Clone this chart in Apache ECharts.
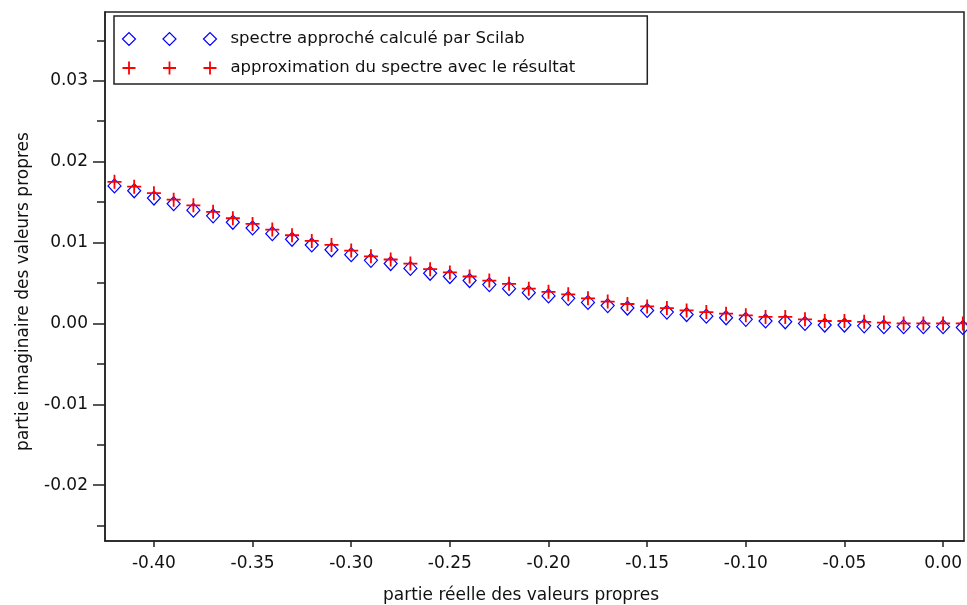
<!DOCTYPE html>
<html>
<head>
<meta charset="utf-8">
<script src="https://cdn.jsdelivr.net/npm/echarts@6/dist/echarts.min.js"></script>
<style>
html,body{margin:0;padding:0;background:#fff;}
#chart{width:967px;height:605px;}
</style>
</head>
<body>
<div id="chart"></div>
<script>
// ---- data ----
const xValues = [-0.42,-0.41,-0.40,-0.39,-0.38,-0.37,-0.36,-0.35,-0.34,-0.33,-0.32,-0.31,-0.30,-0.29,-0.28,-0.27,-0.26,-0.25,-0.24,-0.23,-0.22,-0.21,-0.20,-0.19,-0.18,-0.17,-0.16,-0.15,-0.14,-0.13,-0.12,-0.11,-0.10,-0.09,-0.08,-0.07,-0.06,-0.05,-0.04,-0.03,-0.02,-0.01,0.00,0.01];
const scilabImag = [0.0170,0.0164,0.0155,0.0148,0.0140,0.0133,0.0125,0.0118,0.0111,0.0104,0.0097,0.0091,0.0085,0.0078,0.0074,0.0068,0.0062,0.0058,0.0053,0.0048,0.0043,0.0038,0.0034,0.0031,0.0026,0.0022,0.0019,0.0016,0.0014,0.0011,0.0009,0.0007,0.0005,0.0003,0.0002,0.0000,-0.0002,-0.0002,-0.0003,-0.0004,-0.0004,-0.0004,-0.0004,-0.0005];
const approxImag = [0.0175,0.0169,0.0161,0.0153,0.0146,0.0138,0.0130,0.0123,0.0116,0.0109,0.0102,0.0097,0.0090,0.0083,0.0079,0.0074,0.0067,0.0063,0.0058,0.0053,0.0049,0.0043,0.0039,0.0036,0.0031,0.0027,0.0024,0.0021,0.0019,0.0016,0.0014,0.0012,0.0010,0.0008,0.0008,0.0005,0.0003,0.0003,0.0002,0.0001,0.0000,0.0000,0.0000,0.0000];
const xTicks = [-0.40,-0.35,-0.30,-0.25,-0.20,-0.15,-0.10,-0.05,0.00];
const yTicks = [-0.02,-0.01,0.00,0.01,0.02,0.03];
const yMinorTicks = [-0.025,-0.015,-0.005,0.005,0.015,0.025,0.035];
const seriesNames = ['spectre approché calculé par Scilab','approximation du spectre avec le résultat'];
const xName = 'partie réelle des valeurs propres';
const yName = 'partie imaginaire des valeurs propres';
const xRange = [-0.4248, 0.0106];
const yRange = [-0.0269, 0.0385];

// ---- chart ----
const FONT = 'DejaVu Sans';
const TXT = '#111';
const fmt = v => (Math.abs(v) < 1e-9 ? 0 : v).toFixed(2);
const pair = arr => xValues.map((x, i) => [x, arr[i]]);

const plusPath = 'path://M6,0L6,12M0,6L12,6';
const diamondLegend = 'path://M0,6.5L6.5,0L13,6.5L6.5,13ZM40.5,6.5L47,0L53.5,6.5L47,13ZM81,6.5L87.5,0L94,6.5L87.5,13Z';
const plusLegend = 'path://M0,6.5L13,6.5M6.5,0L6.5,13M40.5,6.5L53.5,6.5M47,0L47,13M81,6.5L94,6.5M87.5,0L87.5,13';

const chart = echarts.init(document.getElementById('chart'), null, {renderer: 'canvas'});
chart.setOption({
  animation: false,
  backgroundColor: '#fff',
  textStyle: {fontFamily: FONT, color: TXT},
  grid: {left: 105, top: 12, right: 3, bottom: 64, outerBoundsMode: 'none', containLabel: false,
         show: true, borderColor: '#222', borderWidth: 1.5, backgroundColor: 'transparent'},
  legend: {
    orient: 'vertical',
    left: 114, top: 16,
    padding: [14, 72, 7, 6],
    itemGap: 11,
    itemWidth: 94, itemHeight: 13,
    borderColor: '#222', borderWidth: 1.5,
    backgroundColor: '#fff',
    selectedMode: false,
    textStyle: {fontFamily: FONT, fontSize: 16.5, color: TXT, lineHeight: 18, padding: [0, 0, 0, 9]},
    data: [
      {name: seriesNames[0], icon: diamondLegend, itemStyle: {color: 'none', borderColor: '#0000ff', borderWidth: 1.2}},
      {name: seriesNames[1], icon: plusLegend, itemStyle: {color: 'none', borderColor: '#ff0000', borderWidth: 1.8}}
    ]
  },
  xAxis: {
    type: 'value', min: xRange[0], max: xRange[1],
    name: xName, nameLocation: 'middle', nameGap: 46,
    nameTextStyle: {fontFamily: FONT, fontSize: 17, color: TXT, padding: [0, 27, 0, 0]},
    axisLine: {show: true, onZero: false, lineStyle: {color: '#222', width: 1.5}},
    axisTick: {show: true, length: 6, lineStyle: {color: '#222', width: 1.5}, customValues: xTicks},
    axisLabel: {margin: 14, fontFamily: FONT, fontSize: 17, color: TXT, customValues: xTicks, formatter: fmt},
    splitLine: {show: false}
  },
  yAxis: [{
    type: 'value', min: yRange[0], max: yRange[1],
    name: yName, nameLocation: 'middle', nameGap: 73,
    nameTextStyle: {fontFamily: FONT, fontSize: 17, color: TXT, padding: [0, 30, 0, 0]},
    axisLine: {show: true, onZero: false, lineStyle: {color: '#222', width: 1.5}},
    axisTick: {show: true, length: 12, lineStyle: {color: '#222', width: 1.5}, customValues: yTicks},
    axisLabel: {margin: 17, fontFamily: FONT, fontSize: 17, color: TXT, customValues: yTicks, formatter: fmt},
    splitLine: {show: false}
  }, {
    type: 'value', min: yRange[0], max: yRange[1], position: 'left',
    axisLine: {show: false, onZero: false},
    axisTick: {show: true, length: 8, lineStyle: {color: '#222', width: 1.5}, customValues: yMinorTicks},
    axisLabel: {show: false, customValues: yMinorTicks},
    splitLine: {show: false}
  }],
  series: [{
    name: seriesNames[0], type: 'scatter', yAxisIndex: 0,
    symbol: 'diamond', symbolSize: [13, 14],
    itemStyle: {color: 'none', borderColor: '#0000ff', borderWidth: 1.2, opacity: 1},
    data: pair(scilabImag)
  }, {
    name: seriesNames[1], type: 'scatter', yAxisIndex: 0,
    symbol: plusPath, symbolSize: 14,
    itemStyle: {color: 'none', borderColor: '#ff0000', borderWidth: 1.8, opacity: 1},
    data: pair(approxImag)
  }]
});
</script>
</body>
</html>
